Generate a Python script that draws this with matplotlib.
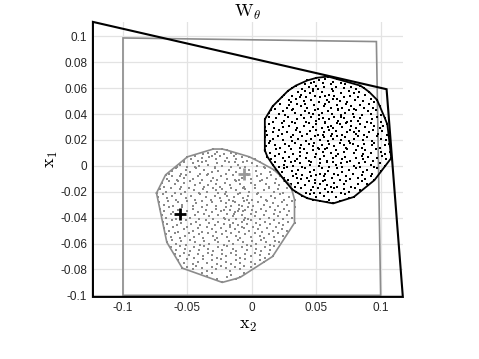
import numpy as np
import matplotlib
matplotlib.use('Agg')
from matplotlib import pyplot as plt

plt.rcParams['mathtext.fontset'] = 'cm'
plt.rcParams['font.family'] = ['Liberation Sans', 'DejaVu Sans']

# points, in units of 0.001 (x2, x1)
black_pts = [
    (43,66),(46,64),(50,68),(52,66),(55,64),(57,67),(59,69),(63,65),(66,67),(69,64),(48,65),
    (31,60),(34,62),(39,59),(41,63),(44,61),(50,62),(51,59),(56,61),(61,63),(62,59),(65,61),(71,60),(72,63),(77,61),(81,59),(84,62),(87,60),(47,59),
    (25,55),(28,58),(31,54),(36,57),(38,55),(45,56),(47,58),(49,54),(54,57),(60,55),(63,58),(64,54),(69,56),(75,58),(76,54),(79,56),(83,57),(88,55),(91,57),(41,58),(57,54),
    (20,50),(23,53),(29,51),(30,49),(34,52),(40,50),(42,53),(46,51),(52,49),(53,53),(58,51),(60,49),(66,52),(68,50),(71,53),(74,49),(80,51),(82,53),(86,50),(92,52),(95,49),(97,51),(37,53),(63,52),
    (16,46),(18,44),(22,48),(27,45),(29,47),(32,44),(38,46),(41,48),(43,45),(48,47),(51,44),(56,46),(57,48),(61,45),(66,47),(67,44),(73,48),(77,46),(79,44),(84,47),(87,45),(91,48),(94,45),(99,46),(35,48),(70,45),
    (13,41),(15,43),(21,40),(24,42),(26,39),(31,43),(33,41),(38,39),(41,42),(47,40),(49,43),(52,39),(54,41),(59,42),(62,40),(67,43),(69,39),(72,41),(78,40),(81,43),(85,39),(90,42),(92,40),(96,43),(100,39),(44,41),(75,43),
    (10,36),(13,38),(16,34),(19,37),(25,35),(28,38),(31,34),(35,36),(40,37),(42,34),(46,38),(50,35),(55,37),(57,34),(60,36),(64,38),(67,35),(71,37),(74,34),(79,38),(82,35),(84,37),(89,34),(93,36),(97,38),(100,34),(103,37),(52,36),(69,38),(77,35),
    (10,30),(13,32),(17,29),(23,33),(24,30),(29,31),(33,33),(35,29),(40,31),(44,33),(47,30),(50,32),(54,29),(57,33),(61,31),(63,29),(68,32),(70,30),(73,33),(77,31),(81,29),(84,32),(88,30),(92,33),(95,31),(99,29),(102,31),(105,32),(59,30),(66,33),
    (11,27),(12,24),(16,26),(21,28),(23,25),(27,26),(32,24),(34,28),(37,26),(43,25),(45,27),(50,28),(51,24),(56,26),(60,28),(62,25),(65,27),(70,24),(74,26),(76,28),(81,25),(83,27),(87,24),(91,26),(94,28),(98,25),(101,27),(105,24),(55,24),(79,26),
    (10,22),(14,19),(16,21),(20,23),(24,20),(30,22),(31,19),(36,21),(39,23),(42,19),(46,21),(49,23),(53,20),(56,22),(59,19),(63,21),(66,23),(69,20),(72,22),(75,19),(79,21),(82,23),(86,20),(89,22),(93,19),(97,23),(100,21),(104,20),(106,23),(61,23),
    (11,15),(13,18),(18,16),(22,14),(26,17),(29,15),(33,18),(37,14),(38,16),(44,17),(47,15),(48,18),(54,16),(58,14),(60,17),(64,15),(68,18),(71,16),(73,14),(78,17),(82,15),(85,14),(87,17),(93,16),(95,18),(99,14),(103,16),(106,17),(51,14),(76,18),
    (10,12),(14,10),(19,13),(21,9),(26,11),(30,13),(32,9),(37,11),(40,13),(43,10),(47,12),(50,9),(55,11),(57,13),(61,10),(65,12),(67,9),(71,11),(74,13),(79,10),(81,12),(86,9),(88,12),(92,10),(96,13),(100,11),(103,9),(107,11),(52,13),
    (12,7),(15,5),(18,8),(24,6),(26,4),(29,7),(35,5),(37,8),(42,6),(44,4),(49,7),(53,5),(56,8),(58,4),(63,6),(65,8),(70,5),(72,7),(76,4),(81,6),(85,8),(86,5),(90,7),(94,4),(97,6),(101,8),(104,5),(108,6),(33,4),
    (16,1),(18,3),(21,-1),(25,1),(30,3),(32,0),(37,2),(39,-1),(45,1),(46,3),(52,0),(53,2),(58,3),(60,-1),(65,1),(69,2),(70,-1),(74,3),(79,0),(83,2),(84,-1),(88,3),(92,1),(95,-1),(99,2),(103,0),(27,-1),(63,3),
    (19,-3),(23,-5),(25,-2),(31,-4),(34,-6),(36,-3),(41,-2),(45,-5),(48,-3),(53,-6),(54,-2),(59,-4),(64,-6),(66,-2),(70,-5),(75,-3),(78,-6),(81,-2),(86,-5),(89,-3),(93,-6),(97,-2),(100,-4),(57,-6),
    (22,-7),(25,-9),(28,-11),(32,-8),(38,-10),(39,-7),(43,-9),(49,-11),(50,-7),(56,-8),(57,-11),(62,-9),(67,-7),(68,-11),(73,-8),(76,-10),(82,-9),(85,-7),(88,-10),(92,-8),(95,-11),(46,-8),(35,-9),
    (26,-12),(30,-14),(33,-16),(36,-13),(41,-15),(44,-12),(47,-16),(53,-14),(55,-12),(58,-15),(64,-13),(66,-16),(71,-14),(73,-12),(77,-16),(82,-14),(85,-12),(89,-14),(61,-16),(49,-13),
    (31,-18),(34,-20),(38,-17),(42,-21),(46,-19),(51,-17),(53,-21),(57,-18),(62,-20),(64,-17),(69,-21),(71,-18),(75,-20),(80,-17),(84,-19),(48,-21),(59,-20),
    (39,-23),(43,-25),(45,-22),(50,-24),(53,-27),(56,-23),(60,-26),(63,-29),(65,-24),(68,-27),(72,-22),(75,-25),(79,-24),(58,-28),(47,-26),
]

gray_pts = [
    (-30,13),(-19,12),(-34,10),(-27,11),(-23,13),(-22,9),(-16,10),(-12,9),(-38,9),(-29,9),
    (-50,7),(-47,5),(-44,8),(-39,6),(-36,4),(-33,7),(-28,5),(-25,8),(-21,4),(-19,6),(-14,8),(-12,5),(-8,7),(-4,4),(-2,7),(2,5),(-42,4),(-31,8),(-53,4),
    (-56,1),(-53,3),(-50,-1),(-46,2),(-41,0),(-39,3),(-34,1),(-29,-1),(-27,2),(-23,0),(-18,3),(-16,-1),(-11,1),(-7,3),(-5,-1),(0,2),(4,0),(6,3),(9,-1),(-58,-1),(-44,-1),(-13,3),
    (-62,-4),(-59,-2),(-55,-6),(-51,-3),(-48,-5),(-43,-2),(-40,-6),(-37,-3),(-31,-5),(-29,-2),(-26,-4),(-20,-6),(-18,-3),(-12,-5),(-9,-2),(-4,-6),(-2,-3),(3,-4),(7,-6),(10,-2),(14,-5),(17,-3),(-64,-6),(-34,-6),
    (-67,-7),(-66,-10),(-62,-8),(-58,-11),(-53,-9),(-51,-7),(-46,-10),(-42,-8),(-39,-11),(-35,-7),(-30,-9),(-27,-11),(-24,-8),(-19,-10),(-15,-7),(-13,-11),(-8,-9),(-3,-7),(-1,-10),(4,-8),(8,-11),(12,-9),(15,-7),(19,-10),(22,-8),(-56,-8),(-10,-11),
    (-70,-13),(-68,-16),(-64,-12),(-60,-14),(-55,-16),(-53,-13),(-48,-12),(-44,-15),(-40,-13),(-37,-16),(-32,-12),(-28,-14),(-25,-16),(-21,-13),(-17,-15),(-12,-12),(-9,-14),(-6,-16),(-1,-13),(2,-15),(6,-12),(11,-14),(13,-16),(18,-13),(21,-15),(25,-12),(28,-14),(30,-15),(-57,-12),(-34,-15),
    (-74,-21),(-71,-18),(-67,-20),(-63,-17),(-60,-21),(-56,-18),(-52,-20),(-49,-17),(-45,-19),(-41,-21),(-38,-18),(-35,-20),(-30,-17),(-26,-21),(-23,-18),(-20,-20),(-16,-17),(-12,-19),(-9,-21),(-5,-18),(-2,-20),(2,-17),(5,-21),(9,-19),(13,-17),(17,-20),(20,-18),(24,-21),(27,-17),(31,-19),(-28,-19),(-7,-17),
    (-73,-24),(-69,-22),(-66,-25),(-62,-23),(-59,-26),(-55,-22),(-51,-25),(-47,-23),(-44,-26),(-40,-22),(-36,-24),(-32,-26),(-29,-23),(-25,-25),(-21,-22),(-18,-26),(-14,-24),(-11,-22),(-7,-25),(-3,-23),(0,-26),(4,-22),(7,-24),(11,-26),(15,-23),(18,-25),(22,-22),(25,-26),(29,-24),(33,-26),(-19,-23),(-4,-26),
    (-72,-28),(-68,-30),(-65,-27),(-61,-31),(-57,-28),(-54,-30),(-50,-27),(-46,-31),(-43,-29),(-39,-27),(-35,-30),(-31,-28),(-28,-31),(-24,-27),(-20,-29),(-16,-31),(-13,-28),(-10,-30),(-6,-27),(-2,-29),(1,-31),(5,-28),(9,-30),(12,-27),(16,-29),(20,-31),(23,-28),(27,-30),(31,-27),(-8,-31),(-15,-27),
    (-71,-33),(-68,-35),(-64,-32),(-61,-36),(-57,-34),(-54,-32),(-50,-35),(-46,-33),(-42,-36),(-39,-32),(-36,-34),(-31,-36),(-28,-33),(-24,-35),(-20,-32),(-17,-34),(-13,-36),(-10,-33),(-7,-35),(-3,-32),(0,-34),(3,-36),(7,-33),(11,-35),(14,-32),(18,-34),(22,-36),(25,-33),(29,-35),(33,-32),(-11,-35),(-22,-34),(-5,-34),
    (-70,-38),(-67,-40),(-63,-37),(-59,-41),(-55,-39),(-52,-37),(-48,-40),(-44,-38),(-41,-41),(-37,-37),(-33,-39),(-30,-41),(-26,-38),(-22,-40),(-19,-37),(-15,-39),(-12,-41),(-8,-38),(-5,-40),(-1,-37),(2,-39),(6,-41),(9,-38),(13,-40),(17,-37),(20,-39),(24,-41),(27,-38),(31,-40),(-14,-37),(-3,-41),(-21,-41),
    (-69,-43),(-66,-45),(-62,-42),(-58,-46),(-55,-44),(-51,-42),(-47,-45),(-43,-43),(-40,-46),(-36,-42),(-33,-44),(-29,-46),(-26,-43),(-22,-45),(-18,-42),(-15,-44),(-11,-46),(-8,-43),(-4,-45),(-1,-42),(3,-44),(6,-46),(10,-43),(14,-45),(17,-42),(21,-44),(24,-46),(28,-43),(33,-44),(-17,-46),(-6,-42),
    (-68,-48),(-64,-50),(-61,-47),(-57,-51),(-53,-49),(-50,-47),(-46,-50),(-42,-48),(-39,-51),(-35,-47),(-31,-49),(-28,-51),(-24,-48),(-20,-50),(-17,-47),(-13,-49),(-10,-51),(-6,-48),(-2,-50),(1,-47),(5,-49),(8,-51),(12,-48),(16,-50),(19,-47),(23,-49),(27,-50),(-8,-47),
    (-67,-53),(-63,-55),(-60,-52),(-56,-56),(-52,-54),(-49,-52),(-45,-55),(-41,-53),(-38,-56),(-34,-52),(-30,-54),(-27,-56),(-23,-53),(-19,-55),(-16,-52),(-12,-54),(-9,-56),(-5,-53),(-1,-55),(2,-52),(6,-54),(9,-56),(13,-53),(17,-55),(20,-52),(24,-54),
    (-66,-59),(-62,-57),(-59,-60),(-55,-58),(-51,-61),(-48,-57),(-44,-59),(-40,-61),(-37,-58),(-33,-60),(-29,-57),(-26,-59),(-22,-61),(-18,-58),(-15,-60),(-11,-57),(-7,-59),(-4,-61),(0,-58),(3,-60),(7,-57),(11,-59),(14,-61),(18,-58),(21,-59),
    (-63,-63),(-59,-65),(-56,-62),(-52,-64),(-48,-66),(-45,-63),(-41,-65),(-37,-62),(-34,-64),(-30,-66),(-26,-63),(-23,-65),(-19,-62),(-15,-64),(-12,-66),(-8,-63),(-4,-65),(-1,-62),(3,-64),(7,-66),(10,-63),(14,-65),(17,-62),
    (-60,-68),(-56,-70),(-53,-67),(-49,-69),(-45,-71),(-42,-68),(-38,-70),(-34,-67),(-31,-69),(-27,-71),(-23,-68),(-20,-70),(-16,-67),(-12,-69),(-9,-71),(-5,-68),(-1,-70),(2,-67),(6,-69),(10,-71),(13,-68),(16,-70),
    (-57,-73),(-53,-75),(-50,-72),(-46,-76),(-42,-74),(-38,-72),(-35,-75),(-31,-73),(-27,-76),(-24,-72),(-20,-74),(-16,-76),(-12,-73),(-9,-75),(-5,-72),(-1,-74),(2,-76),(6,-73),(9,-74),
    (-54,-79),(-50,-78),(-46,-80),(-43,-77),(-39,-79),(-35,-81),(-31,-78),(-28,-80),(-24,-77),(-20,-79),(-17,-81),(-13,-78),(-9,-80),(-6,-77),(-1,-78),
    (-39,-83),(-35,-85),(-31,-83),(-27,-87),(-23,-90),(-19,-86),(-16,-84),(-12,-87),(-9,-86),(-6,-83),
]

# outer black region and gray box
outer_x = [-0.1233, 0.1044, 0.117, -0.1233]
outer_y = [0.1112, 0.0592, -0.1012, -0.1012]
box_x = [-0.1, 0.0965, 0.0998, -0.1]
box_y = [0.0988, 0.0960, -0.1, -0.1]

# the two plus markers
black_plus = (-0.0558, -0.0371)
gray_plus = (-0.0060, -0.0064)

xticks = [-0.1, -0.05, 0, 0.05, 0.1]
xticklabels = ['-0.1', '-0.05', '0', '0.05', '0.1']
yticks = [0.1, 0.08, 0.06, 0.04, 0.02, 0, -0.02, -0.04, -0.06, -0.08, -0.1]
yticklabels = ['0.1', '0.08', '0.06', '0.04', '0.02', '0', '-0.02', '-0.04', '-0.06', '-0.08', '-0.1']


def hull(p):
    # monotone chain convex hull
    p = sorted(set(p))
    def cross(o, a, b):
        return (a[0]-o[0])*(b[1]-o[1]) - (a[1]-o[1])*(b[0]-o[0])
    lo, up = [], []
    for q in p:
        while len(lo) >= 2 and cross(lo[-2], lo[-1], q) <= 0:
            lo.pop()
        lo.append(q)
    for q in reversed(p):
        while len(up) >= 2 and cross(up[-2], up[-1], q) <= 0:
            up.pop()
        up.append(q)
    h = lo[:-1] + up
    return np.array(h) * 1e-3


bp = np.array(black_pts) * 1e-3
gp = np.array(gray_pts) * 1e-3

fig = plt.figure(figsize=(4.79, 3.59), dpi=100)
ax = fig.add_axes([0.194, 0.173, 0.647, 0.766])

ax.scatter(gp[:, 0], gp[:, 1], s=1.8, c='#8a8a8a', marker='s', linewidths=0, zorder=3)
ax.scatter(bp[:, 0], bp[:, 1], s=1.8, c='black', marker='s', linewidths=0, zorder=3)

gh = hull(gray_pts)
bh = hull(black_pts)
ax.plot(gh[:, 0], gh[:, 1], color='#8c8c8c', lw=1.2, zorder=4)
ax.plot(bh[:, 0], bh[:, 1], color='black', lw=1.3, zorder=4)

ax.fill(box_x, box_y, fill=False, edgecolor='#8c8c8c', lw=1.2, zorder=2)
ax.fill(outer_x, outer_y, fill=False, edgecolor='black', lw=1.5, zorder=5, clip_on=False)

ax.plot(*black_plus, marker='+', ms=9, mew=2, color='black', zorder=6)
ax.plot(*gray_plus, marker='+', ms=9, mew=2, color='#999999', zorder=6)

ax.set_xlim(min(outer_x), max(outer_x))
ax.set_ylim(min(outer_y), max(outer_y))
ax.set_xticks(xticks)
ax.set_xticklabels(xticklabels)
ax.set_yticks(yticks)
ax.set_yticklabels(yticklabels)
ax.tick_params(length=0, labelsize=8.5, colors='#262626', pad=4)
ax.grid(True, color='#e3e3e3', lw=0.9)
ax.set_axisbelow(True)
for s in ax.spines.values():
    s.set_visible(False)

ax.set_title(r'$\mathrm{W}_\theta$', fontsize=13, pad=3)
ax.set_xlabel(r'$\mathrm{x}_2$', fontsize=13, labelpad=2)
ax.set_ylabel(r'$\mathrm{x}_1$', fontsize=13, labelpad=0)

fig.savefig('out.png', dpi=100)
